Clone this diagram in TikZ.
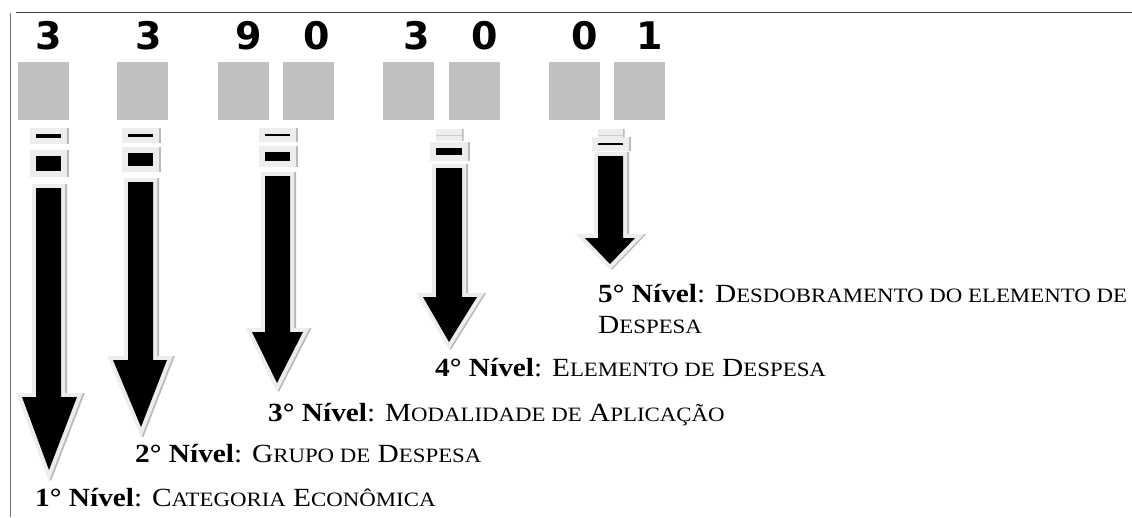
\documentclass[tikz,border=0pt]{standalone}
\usepackage{fontspec}
\setmainfont{Liberation Serif}[FakeStretch=1.12]
\newfontfamily\digitfont{DejaVu Sans}
\definecolor{cellgray}{HTML}{C0C0C0}
\definecolor{framegray}{HTML}{EDEDED}
\definecolor{shadegray}{HTML}{B9B9B9}
\newcommand{\lowcaps}[1]{{\fontsize{20.4}{31}\selectfont #1}}

\begin{document}
\begin{tikzpicture}[
    x=1pt, y=-1pt,
    cell/.style={fill=cellgray, minimum width=51pt, minimum height=58pt, inner sep=0pt},
    digit/.style={font=\digitfont\bfseries\fontsize{38}{40}\selectfont, inner sep=0pt},
    level/.style={anchor=base west, inner sep=0pt, align=left, font=\fontsize{26.2}{31}\selectfont},
    stripe/.style={fill=black,
        preaction={draw=shadegray, line width=12pt, transform canvas={xshift=1.5pt}},
        preaction={draw=framegray, fill=framegray, line width=12pt}},
    levelarrow/.style={fill=black, line join=miter,
        preaction={draw=shadegray, line width=8pt, line join=miter, transform canvas={xshift=2pt}},
        preaction={draw=framegray, fill=framegray, line width=8pt, line join=miter}}
]
    \useasboundingbox (0,0) rectangle (1132,517);

    % Frame
    \draw[black!75, line width=1.8pt] (16,12.5) -- (1132,12.5);
    \draw[black!55, line width=1pt] (10,13) -- (10,517);

    % Code cells
    \node[cell] (b1) at (43,91) {};
    \node[cell] (b2) at (142,91) {};
    \node[cell] (b3) at (243,91) {};
    \node[cell] (b4) at (308,91) {};
    \node[cell] (b5) at (408,91) {};
    \node[cell] (b6) at (474,91) {};
    \node[cell] (b7) at (574,91) {};
    \node[cell] (b8) at (639.5,91) {};

    % Digits
    \node[digit] (d1) at (49,36) {3};
    \node[digit] (d2) at (149,36) {3};
    \node[digit] (d3) at (249,36) {9};
    \node[digit] (d4) at (317,36) {0};
    \node[digit] (d5) at (417,36) {3};
    \node[digit] (d6) at (485,36) {0};
    \node[digit] (d7) at (585,36) {0};
    \node[digit] (d8) at (650,36) {1};

    % Stripes
    \path[stripe] (36,134) rectangle (61,138);
    \path[stripe] (36,156) rectangle (61,171);
    \path[stripe] (128,134) rectangle (153,137);
    \path[stripe] (128,153) rectangle (153,166);
    \path[stripe] (265,134) rectangle (290,136);
    \path[stripe] (265,152) rectangle (290,161);
    \path[stripe] (436,134.5) rectangle (462,134.5);
    \path[stripe] (436,148) rectangle (462,155);
    \path[stripe] (598,134.5) rectangle (623,134.5);
    \path[stripe] (598,143) rectangle (623,145);

    % Arrows
    \path[levelarrow] (36,188) -- (61,188) -- (61,397) -- (77,397) -- (49,470) -- (22,397) -- (36,397) -- cycle;
    \path[levelarrow] (128,182) -- (153,182) -- (153,360) -- (167,360) -- (141,427) -- (113,360) -- (128,360) -- cycle;
    \path[levelarrow] (265,176) -- (290,176) -- (290,332) -- (303,332) -- (277,383) -- (252,332) -- (265,332) -- cycle;
    \path[levelarrow] (436,168) -- (462,168) -- (462,297) -- (477,297) -- (449,342) -- (423,297) -- (436,297) -- cycle;
    \path[levelarrow] (598,156) -- (623,156) -- (623,238) -- (635,238) -- (610,264) -- (585,238) -- (598,238) -- cycle;

    % Levels
    \node[level] (lvl1) at (35,506) {\textbf{1° Nível}: C\lowcaps{ATEGORIA} E\lowcaps{CONÔMICA}};
    \node[level] (lvl2) at (135,462) {\textbf{2° Nível}: G\lowcaps{RUPO DE} D\lowcaps{ESPESA}};
    \node[level] (lvl3) at (268,421) {\textbf{3° Nível}: M\lowcaps{ODALIDADE DE} A\lowcaps{PLICAÇÃO}};
    \node[level] (lvl4) at (435,376) {\textbf{4° Nível}: E\lowcaps{LEMENTO DE} D\lowcaps{ESPESA}};
    \node[level] (lvl5) at (598,333) {\textbf{5° Nível}: D\lowcaps{ESDOBRAMENTO DO ELEMENTO DE}\\D\lowcaps{ESPESA}};
\end{tikzpicture}
\end{document}
